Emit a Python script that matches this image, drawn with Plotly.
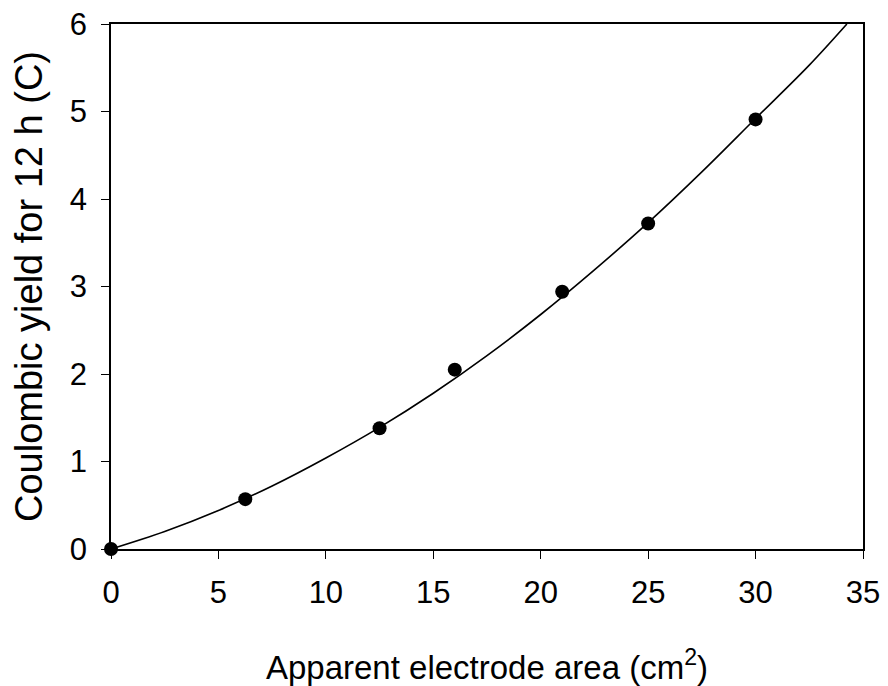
import plotly.graph_objects as go

# Measured coulombic yield over 12 h versus apparent electrode area
area_cm2 = [0, 6.25, 12.5, 16, 21, 25, 30]
yield_c = [0, 0.57, 1.38, 2.05, 2.94, 3.72, 4.91]

# Fitted trend curve, sampled along its length
fit_area = [0, 2.5, 5, 7.5, 10, 12.5, 15, 17.5, 20, 22.5, 25, 27.5, 30, 32.5, 34.25]
fit_yield = [0, 0.2, 0.44, 0.72, 1.04, 1.39, 1.78, 2.21, 2.68, 3.19, 3.73, 4.31, 4.92, 5.53, 6.0]

x_ticks = [0, 5, 10, 15, 20, 25, 30, 35]
y_ticks = [0, 1, 2, 3, 4, 5, 6]

FONT = "Liberation Sans, Arial, sans-serif"

fig = go.Figure()
fig.add_trace(go.Scatter(
    x=fit_area, y=fit_yield, mode="lines",
    line=dict(color="black", width=1.6, shape="spline"),
    hoverinfo="skip", showlegend=False, cliponaxis=True,
))
fig.add_trace(go.Scatter(
    x=area_cm2, y=yield_c, mode="markers",
    marker=dict(color="black", size=14, line=dict(width=0)),
    showlegend=False, cliponaxis=False,
))

axis_common = dict(
    showline=True, linecolor="black", linewidth=1.6, mirror=True,
    showgrid=False, zeroline=False, automargin=False,
    ticks="outside", ticklen=8, tickwidth=1.4, tickcolor="black",
    tickfont=dict(family=FONT, size=31, color="black"),
)

fig.update_xaxes(
    range=[0, 35], tickvals=x_ticks, ticktext=[str(v) for v in x_ticks],
    ticklabelstandoff=7,
    title=dict(text="Apparent electrode area (cm<sup>2</sup>)",
               font=dict(family=FONT, size=33, color="black"), standoff=47),
    **axis_common,
)
fig.update_yaxes(
    range=[0, 6], tickvals=y_ticks, ticktext=[str(v) for v in y_ticks],
    ticklabelstandoff=8,
    title=dict(text="Coulombic yield for 12 h (C)",
               font=dict(family=FONT, size=38, color="black"), standoff=15),
    **axis_common,
)

fig.update_layout(
    width=888, height=686,
    margin=dict(l=111, r=25, t=24, b=137),
    paper_bgcolor="white", plot_bgcolor="white",
    font=dict(family=FONT, color="black"),
)

fig.write_html("out.html")
